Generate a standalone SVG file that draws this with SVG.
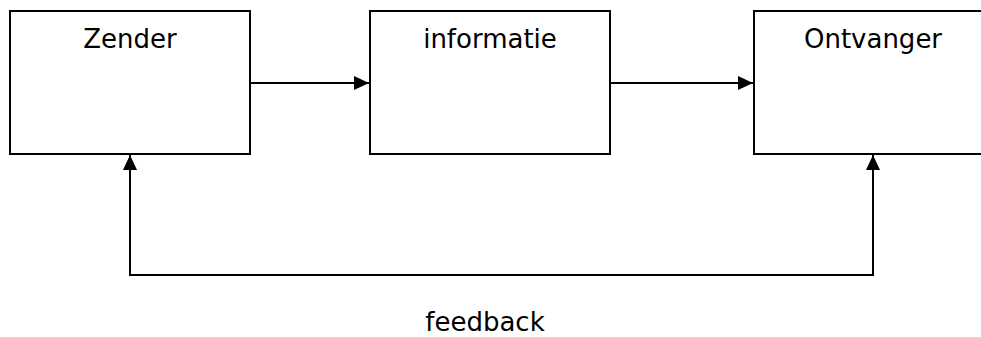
<svg xmlns="http://www.w3.org/2000/svg" width="981" height="337" viewBox="0 0 981 337">
<style>
.box{fill:#fff;stroke:#000;stroke-width:2}
.lbl{font-family:"DejaVu Sans",Verdana,sans-serif;font-size:26px;fill:#000;text-anchor:middle}
.ln{fill:none;stroke:#000;stroke-width:2}
</style>
<defs>
<marker id="ah" markerUnits="userSpaceOnUse" markerWidth="15" markerHeight="14" refX="15" refY="7" orient="auto">
<path d="M0,0 L15,7 L0,14 Z" fill="#000"/>
</marker>
</defs>
<rect width="981" height="337" fill="#fff"/>
<g id="zender">
<rect class="box" x="10" y="11" width="240" height="143"/>
<text class="lbl" x="130" y="48">Zender</text>
</g>
<g id="informatie">
<rect class="box" x="370" y="11" width="240" height="143"/>
<text class="lbl" x="490" y="48">informatie</text>
</g>
<g id="ontvanger">
<rect class="box" x="754" y="11" width="240" height="143"/>
<text class="lbl" x="873" y="48">Ontvanger</text>
</g>
<g id="connectors">
<line class="ln" x1="250" y1="83" x2="369" y2="83" marker-end="url(#ah)"/>
<line class="ln" x1="610" y1="83" x2="753" y2="83" marker-end="url(#ah)"/>
<polyline class="ln" points="873,170 873,275 130,275 130,155" marker-end="url(#ah)"/>
<line class="ln" x1="873" y1="170" x2="873" y2="155" marker-end="url(#ah)"/>
</g>
<text class="lbl" x="485" y="331">feedback</text>
</svg>
